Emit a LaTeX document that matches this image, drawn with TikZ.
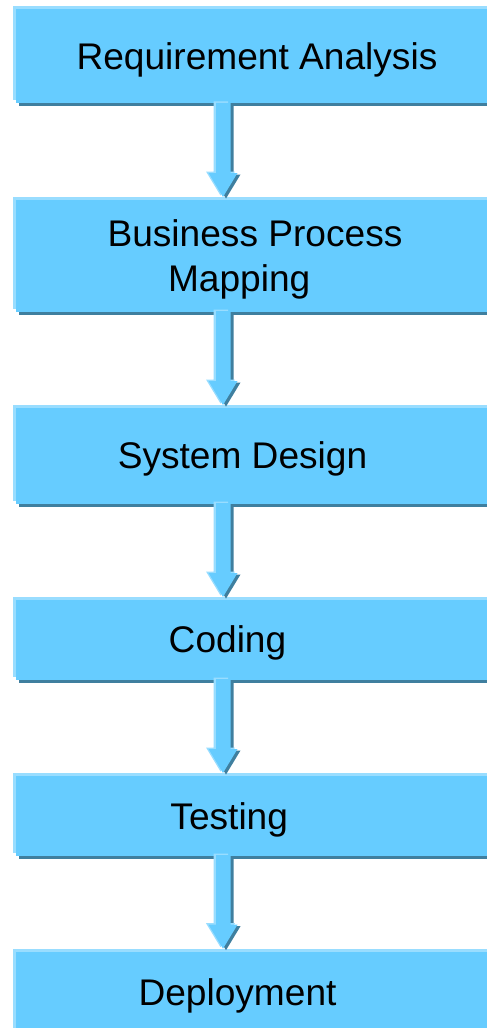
\documentclass[tikz,border=0pt]{standalone}
\usepackage{fontspec}
\setmainfont{Liberation Sans}
\usetikzlibrary{shadows,calc}
\definecolor{boxmain}{HTML}{66CCFF}
\definecolor{boxlight}{HTML}{99DDFF}
\definecolor{boxdark}{HTML}{3F7F9F}
\tikzset{
  stagebox/.style={rectangle, inner sep=0pt, outer sep=0pt, minimum width=484pt,
    anchor=north west, fill=boxmain, draw=none,
    general shadow={shadow xshift=3pt, shadow yshift=-3pt, fill=boxdark, opacity=1},
    general shadow={shadow xshift=-3pt, shadow yshift=3pt, fill=boxlight, opacity=1}},
  flowarrow/.style={fill=boxmain, draw=none,
    general shadow={shadow xshift=3pt, shadow yshift=-1.5pt, fill=boxdark, opacity=1},
    general shadow={shadow xshift=-2.5pt, shadow yshift=1.5pt, fill=boxlight, opacity=1}},
  stagetext/.style={inner sep=0pt, outer sep=0pt, anchor=base, text=black,
    font=\fontsize{37.1}{44}\selectfont}
}
\begin{document}
\begin{tikzpicture}[x=1pt,y=1pt]
\clip (0,0) rectangle (487,-1028);
\fill[white] (0,0) rectangle (487,-1028);
% boxes
\node[stagebox, minimum height=94.3pt]  (b1) at (16,-9) {};
\node[stagebox, minimum height=111.7pt] (b2) at (16,-200) {};
\node[stagebox, minimum height=95.7pt]  (b3) at (16,-408) {};
\node[stagebox, minimum height=79.7pt]  (b4) at (16,-600) {};
\node[stagebox, minimum height=79.7pt]  (b5) at (16,-776) {};
\node[stagebox, minimum height=90pt]    (b6) at (16,-951.7) {};
% texts
\node[stagetext] (t1)  at (257,-69.3)   {Requirement Analysis};
\node[stagetext] (t2a) at (255,-246.7)  {Business Process};
\node[stagetext] (t2b) at (239.2,-291.7) {Mapping};
\node[stagetext] (t3)  at (242.5,-468.3) {System Design};
\node[stagetext] (t4)  at (227.5,-652.8) {Coding};
\node[stagetext] (t5)  at (229.2,-829.3) {Testing};
\node[stagetext] (t6)  at (237.5,-1005)  {Deployment};
% arrows
\foreach \a/\b in {b1/b2, b2/b3, b3/b4, b4/b5, b5/b6}{
  \path[flowarrow] let \p1=(\a.south), \p2=(\b.north) in
    (216pt,{\y1+0.5pt}) -- (230.5pt,{\y1+0.5pt}) -- (230.5pt,{\y2+27pt})
    -- (237.5pt,{\y2+27pt}) -- (223pt,{\y2+3pt}) -- (208.5pt,{\y2+27pt})
    -- (216pt,{\y2+27pt}) -- cycle;
}
\end{tikzpicture}
\end{document}
